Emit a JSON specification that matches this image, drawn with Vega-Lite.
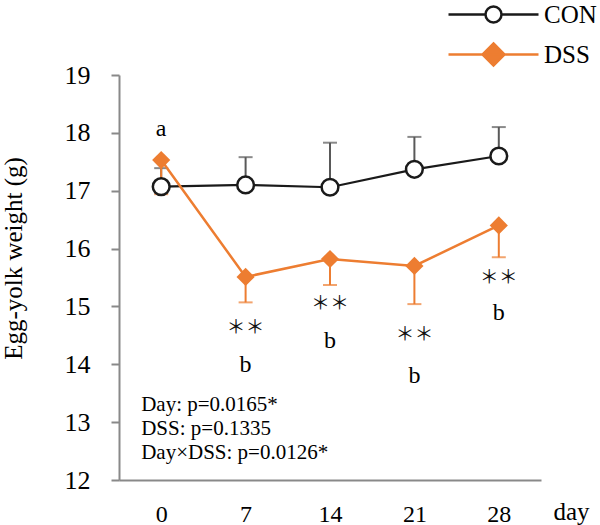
{
  "$schema": "https://vega.github.io/schema/vega-lite/v6.json",
  "autosize": {"type": "none"},
  "padding": {"left": 119, "top": 75, "right": 59, "bottom": 45},
  "width": 422,
  "height": 405,
  "background": "white",
  "datasets": {
    "weights": [
      {"day": 0, "group": "CON", "weight": 17.07, "bar_end": 17.39},
      {"day": 7, "group": "CON", "weight": 17.10, "bar_end": 17.58},
      {"day": 14, "group": "CON", "weight": 17.06, "bar_end": 17.83},
      {"day": 21, "group": "CON", "weight": 17.37, "bar_end": 17.93},
      {"day": 28, "group": "CON", "weight": 17.60, "bar_end": 18.10},
      {"day": 0, "group": "DSS", "weight": 17.53, "bar_end": 16.94},
      {"day": 7, "group": "DSS", "weight": 15.51, "bar_end": 15.07},
      {"day": 14, "group": "DSS", "weight": 15.82, "bar_end": 15.37},
      {"day": 21, "group": "DSS", "weight": 15.70, "bar_end": 15.04},
      {"day": 28, "group": "DSS", "weight": 16.40, "bar_end": 15.85}
    ],
    "letters": [
      {"day": 0, "pos": 17.95, "label": "a"},
      {"day": 7, "pos": 13.87, "label": "b"},
      {"day": 14, "pos": 14.28, "label": "b"},
      {"day": 21, "pos": 13.67, "label": "b"},
      {"day": 28, "pos": 14.77, "label": "b"}
    ],
    "stars": [
      {"day": 7, "pos": 14.62, "label": "＊＊"},
      {"day": 14, "pos": 15.04, "label": "＊＊"},
      {"day": 21, "pos": 14.51, "label": "＊＊"},
      {"day": 28, "pos": 15.50, "label": "＊＊"}
    ],
    "stats": [
      {"day": -1.66, "pos": 13.19, "label": "Day: p=0.0165*"},
      {"day": -1.66, "pos": 12.78, "label": "DSS: p=0.1335"},
      {"day": -1.66, "pos": 12.36, "label": "Day×DSS: p=0.0126*"}
    ]
  },
  "config": {
    "view": {"stroke": null},
    "font": "Liberation Serif",
    "legend": {
      "orient": "none",
      "legendX": 362,
      "legendY": -73,
      "padding": 0,
      "symbolSize": 400,
      "symbolStrokeWidth": 2.5,
      "labelFont": "Liberation Serif",
      "labelFontSize": 25,
      "labelColor": "black",
      "labelOffset": 38,
      "rowPadding": 10,
      "title": null
    }
  },
  "encoding": {
    "x": {
      "field": "day",
      "type": "quantitative",
      "scale": {"domain": [-3.5, 31.5], "nice": false, "zero": false},
      "axis": {
        "values": [0, 7, 14, 21, 28],
        "ticks": false,
        "grid": false,
        "domainColor": "#898989",
        "domainWidth": 2,
        "labelPadding": 41,
        "labelBaseline": "alphabetic",
        "labelFont": "Liberation Serif",
        "labelFontSize": 24,
        "labelColor": "black",
        "title": "day",
        "titleFont": "Liberation Serif",
        "titleFontSize": 25,
        "titleFontWeight": "normal",
        "titleColor": "black",
        "titleAlign": "left",
        "titleBaseline": "alphabetic",
        "titleX": 434,
        "titleY": 39
      }
    },
    "y": {
      "field": "weight",
      "type": "quantitative",
      "scale": {"domain": [12, 19], "nice": false, "zero": false},
      "axis": {
        "values": [12, 13, 14, 15, 16, 17, 18, 19],
        "grid": false,
        "domainColor": "#898989",
        "domainWidth": 2,
        "tickColor": "#898989",
        "tickWidth": 2,
        "tickSize": 8,
        "labelPadding": 21,
        "labelFont": "Liberation Serif",
        "labelFontSize": 26,
        "labelColor": "black",
        "title": "Egg-yolk weight (g)",
        "titleFont": "Liberation Serif",
        "titleFontSize": 25,
        "titleFontWeight": "normal",
        "titleColor": "black",
        "titleX": -106,
        "titleY": 183,
        "titleAlign": "center",
        "titleBaseline": "middle"
      }
    }
  },
  "layer": [
    {
      "data": {"name": "weights"},
      "transform": [{"filter": "datum.group === 'CON'"}],
      "mark": {"type": "rule", "color": "#595959", "strokeWidth": 2},
      "encoding": {"y2": {"field": "bar_end"}}
    },
    {
      "data": {"name": "weights"},
      "transform": [{"filter": "datum.group === 'CON'"}],
      "mark": {"type": "tick", "orient": "horizontal", "color": "#595959", "size": 14, "thickness": 2},
      "encoding": {"y": {"field": "bar_end", "type": "quantitative"}}
    },
    {
      "data": {"name": "weights"},
      "transform": [{"filter": "datum.group === 'DSS'"}],
      "mark": {"type": "rule", "color": "#ED7D31", "strokeWidth": 2},
      "encoding": {"y2": {"field": "bar_end"}}
    },
    {
      "data": {"name": "weights"},
      "transform": [{"filter": "datum.group === 'DSS'"}],
      "mark": {"type": "tick", "orient": "horizontal", "color": "#ED7D31", "size": 14, "thickness": 2},
      "encoding": {"y": {"field": "bar_end", "type": "quantitative"}}
    },
    {
      "data": {"name": "weights"},
      "transform": [{"filter": "datum.group === 'CON'"}],
      "mark": {"type": "line", "color": "#1a1a1a", "strokeWidth": 2.2},
      "encoding": {}
    },
    {
      "data": {"name": "weights"},
      "transform": [{"filter": "datum.group === 'CON'"}],
      "mark": {"type": "point", "shape": "circle", "size": 280, "filled": false, "fill": "white", "fillOpacity": 1, "stroke": "#1a1a1a", "strokeWidth": 2.5, "opacity": 1},
      "encoding": {}
    },
    {
      "data": {"name": "weights"},
      "transform": [{"filter": "datum.group === 'DSS'"}],
      "mark": {"type": "line", "color": "#ED7D31", "strokeWidth": 2.5},
      "encoding": {}
    },
    {
      "data": {"name": "weights"},
      "transform": [{"filter": "datum.group === 'DSS'"}],
      "mark": {"type": "point", "shape": "diamond", "size": 330, "filled": true, "color": "#ED7D31", "opacity": 1},
      "encoding": {}
    },
    {
      "data": {"name": "weights"},
      "transform": [{"filter": "datum.day < -100"}],
      "mark": {"type": "point", "filled": false, "opacity": 1},
      "encoding": {
        "color": {
          "field": "group",
          "type": "nominal",
          "scale": {"domain": ["CON", "DSS"], "range": ["#1a1a1a", "#ED7D31"]},
          "legend": {"title": null}
        },
        "fill": {
          "field": "group",
          "type": "nominal",
          "scale": {"domain": ["CON", "DSS"], "range": ["white", "#ED7D31"]},
          "legend": {"title": null}
        },
        "shape": {
          "field": "group",
          "type": "nominal",
          "scale": {
            "domain": ["CON", "DSS"],
            "range": [
              "M-4.5,0H-0.8M0.8,0H4.5M0.8,0A0.8,0.8 0 1,1 -0.8,0A0.8,0.8 0 1,1 0.8,0Z",
              "M-4.5,0H4.5M0,-1.1L1.1,0L0,1.1L-1.1,0Z"
            ]
          },
          "legend": {"title": null}
        }
      }
    },
    {
      "data": {"name": "letters"},
      "mark": {"type": "text", "font": "Liberation Serif", "fontSize": 24, "color": "black", "baseline": "alphabetic", "align": "center"},
      "encoding": {
        "y": {"field": "pos", "type": "quantitative"},
        "text": {"field": "label"}
      }
    },
    {
      "data": {"name": "stars"},
      "mark": {"type": "text", "font": "Noto Sans CJK JP", "fontSize": 19, "color": "#111111", "baseline": "middle", "align": "center"},
      "encoding": {
        "y": {"field": "pos", "type": "quantitative"},
        "text": {"field": "label"}
      }
    },
    {
      "data": {"name": "stats"},
      "mark": {"type": "text", "font": "Liberation Serif", "fontSize": 21, "color": "black", "baseline": "alphabetic", "align": "left"},
      "encoding": {
        "y": {"field": "pos", "type": "quantitative"},
        "text": {"field": "label"}
      }
    }
  ]
}
